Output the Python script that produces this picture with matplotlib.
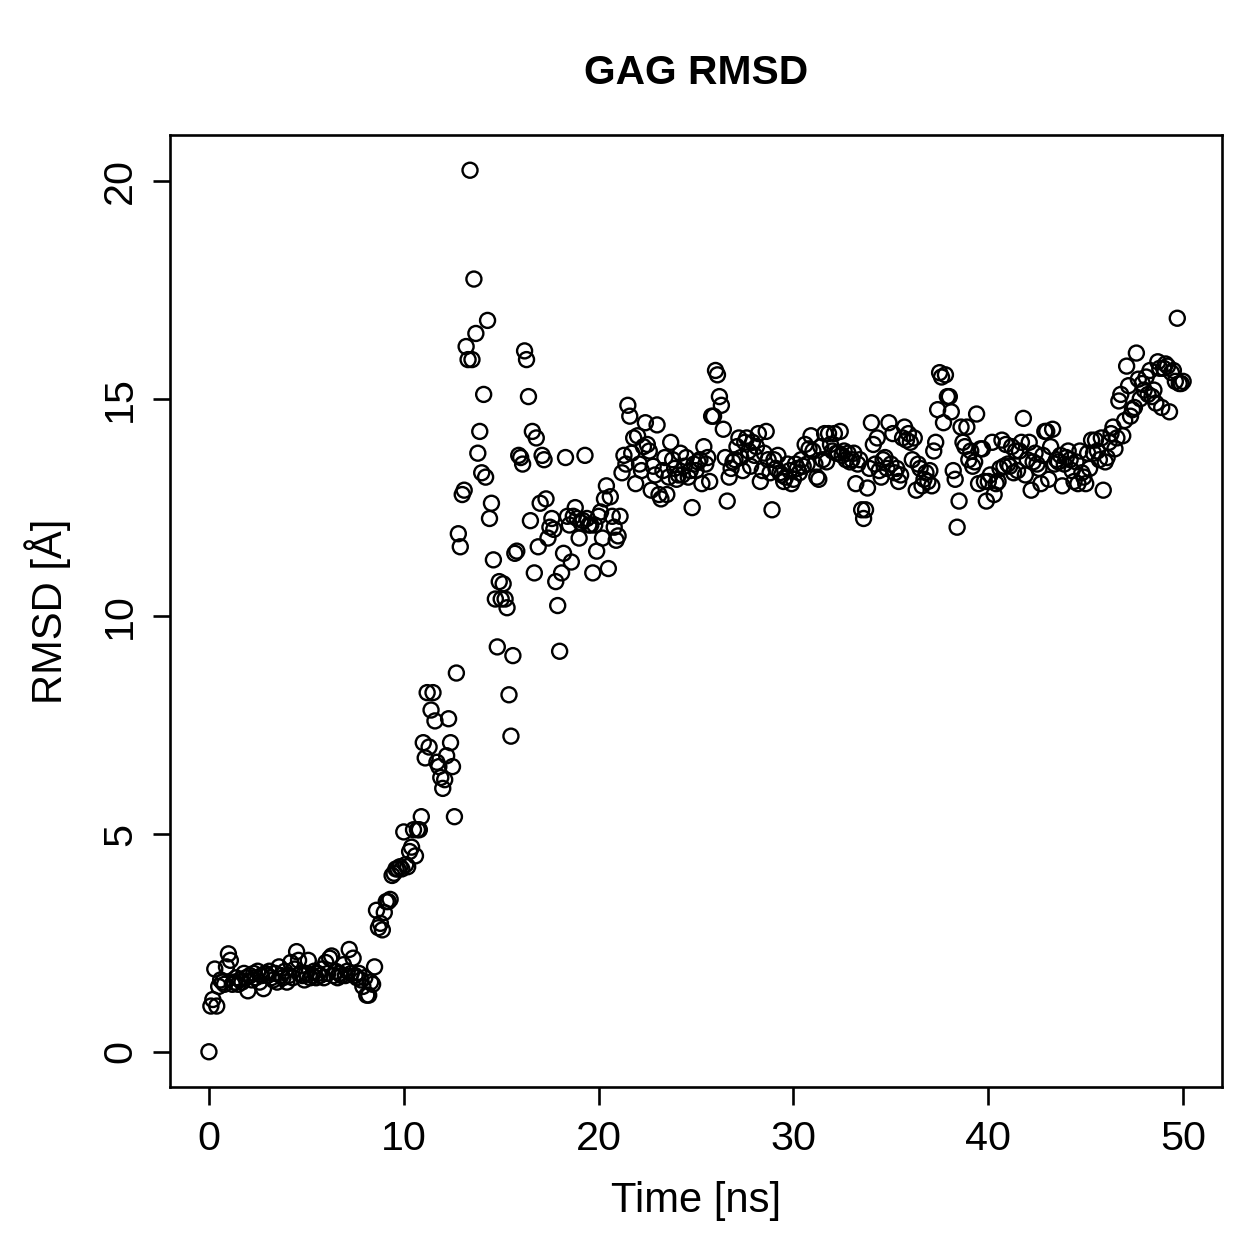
import matplotlib
matplotlib.use("Agg")
import matplotlib.pyplot as plt
import numpy as np

# RMSD (Angstrom), one frame every 0.1 ns
frame_ns = 0.1
rmsd = [
    0.0, 1.05, 1.2, 1.9, 1.05, 1.5, 1.65, 1.6, 1.55, 1.95,
    2.25, 2.1, 1.55, 1.6, 1.7, 1.55, 1.65, 1.6, 1.8, 1.7,
    1.4, 1.75, 1.65, 1.8, 1.7, 1.85, 1.6, 1.75, 1.45, 1.8,
    1.75, 1.85, 1.7, 1.65, 1.8, 1.6, 1.95, 1.75, 1.7, 1.85,
    1.6, 1.75, 2.05, 1.7, 1.9, 2.3, 2.1, 1.8, 1.75, 1.65,
    1.8, 2.1, 1.7, 1.75, 1.85, 1.7, 1.8, 1.75, 1.9, 1.7,
    2.05, 1.8, 2.15, 2.2, 1.75, 1.85, 1.7, 1.8, 1.75, 2.0,
    1.75, 1.85, 2.35, 1.8, 2.15, 1.75, 1.7, 1.8, 1.65, 1.5,
    1.7, 1.3, 1.3, 1.6, 1.55, 1.95, 3.25, 2.85, 2.95, 2.8,
    3.2, 3.45, 3.45, 3.5, 4.05, 4.1, 4.2, 4.2, 4.25, 4.2,
    5.05, 4.3, 4.25, 4.6, 4.7, 5.1, 4.5, 5.1, 5.1, 5.4,
    7.1, 6.75, 8.25, 7.0, 7.85, 8.25, 7.6, 6.65, 6.55, 6.3,
    6.05, 6.25, 6.8, 7.65, 7.1, 6.55, 5.4, 8.7, 11.9, 11.6,
    12.8, 12.9, 16.2, 15.9, 20.25, 15.9, 17.75, 16.5, 13.75, 14.25,
    13.3, 15.1, 13.2, 16.8, 12.25, 12.6, 11.3, 10.4, 9.3, 10.8,
    10.4, 10.75, 10.4, 10.2, 8.2, 7.25, 9.1, 11.45, 11.5, 13.7,
    13.65, 13.5, 16.1, 15.9, 15.05, 12.2, 14.25, 11.0, 14.1, 11.6,
    12.6, 13.7, 13.6, 12.7, 11.8, 12.05, 12.25, 12.0, 10.8, 10.25,
    9.2, 11.0, 11.45, 13.65, 12.3, 12.1, 11.25, 12.3, 12.5, 12.25,
    11.8, 12.15, 12.2, 13.7, 12.25, 12.1, 12.1, 11.0, 12.1, 11.5,
    12.3, 12.4, 11.8, 12.7, 13.0, 11.1, 12.75, 12.3, 12.05, 11.75,
    11.85, 12.3, 13.3, 13.7, 13.5, 14.85, 14.6, 13.75, 14.1, 13.05,
    14.15, 13.5, 13.35, 13.9, 14.45, 13.95, 13.8, 12.9, 13.45, 13.25,
    14.4, 12.8, 12.7, 13.35, 13.65, 12.8, 13.2, 14.0, 13.6, 13.4,
    13.15, 13.25, 13.75, 13.25, 13.45, 13.65, 13.2, 13.35, 12.5, 13.5,
    13.35, 13.55, 13.6, 13.05, 13.9, 13.5, 13.65, 13.1, 14.6, 14.6,
    15.65, 15.55, 15.05, 14.85, 14.3, 13.65, 12.65, 13.2, 13.4, 13.55,
    13.6, 13.9, 14.1, 13.65, 13.35, 14.0, 14.1, 13.8, 13.45, 14.0,
    13.7, 13.9, 14.2, 13.1, 13.35, 13.75, 14.25, 13.6, 13.3, 12.45,
    13.6, 13.4, 13.7, 13.3, 13.25, 13.1, 13.2, 13.5, 13.35, 13.05,
    13.15, 13.5, 13.4, 13.3, 13.6, 13.45, 13.95, 13.5, 13.85, 14.15,
    13.8, 13.5, 13.2, 13.15, 13.9, 13.6, 14.2, 13.55, 14.2, 13.95,
    13.8, 14.2, 13.75, 13.75, 14.25, 13.7, 13.8, 13.6, 13.75, 13.55,
    13.6, 13.75, 13.05, 13.5, 13.6, 12.45, 12.25, 12.45, 12.95, 13.4,
    14.45, 13.95, 13.5, 14.1, 13.35, 13.2, 13.6, 13.65, 13.4, 14.45,
    13.5, 14.2, 13.3, 13.4, 13.1, 13.25, 14.1, 14.35, 14.05, 14.2,
    14.0, 13.6, 14.1, 12.9, 13.5, 13.4, 13.0, 13.15, 13.3, 13.1,
    13.35, 13.0, 13.8, 14.0, 14.75, 15.6, 15.5, 14.45, 15.55, 15.05,
    15.05, 14.7, 13.35, 13.15, 12.05, 12.65, 14.35, 14.0, 13.9, 14.35,
    13.6, 13.8, 13.45, 13.55, 14.65, 13.05, 13.85, 13.85, 13.1, 12.65,
    13.1, 13.25, 14.0, 12.8, 13.05, 13.1, 13.4, 14.05, 13.45, 13.95,
    13.5, 13.45, 13.9, 13.3, 13.8, 13.35, 13.8, 14.0, 14.55, 13.25,
    13.6, 14.0, 12.9, 13.55, 13.75, 13.5, 13.4, 13.05, 13.7, 14.25,
    14.25, 13.15, 13.9, 14.3, 13.5, 13.6, 13.55, 13.7, 13.0, 13.5,
    13.65, 13.8, 13.6, 13.35, 13.1, 13.55, 13.05, 13.8, 13.3, 13.2,
    13.05, 13.75, 13.4, 14.05, 13.75, 14.05, 13.8, 13.6, 14.1, 12.9,
    13.55, 13.65, 14.0, 14.2, 14.35, 13.85, 14.1, 14.95, 15.1, 14.15,
    14.5, 15.75, 15.3, 14.6, 14.75, 14.8, 16.05, 15.45, 15.0, 15.35,
    15.2, 15.5, 15.1, 15.65, 15.05, 15.2, 14.9, 15.85, 15.7, 14.8,
    15.7, 15.8, 15.75, 14.7, 15.6, 15.65, 15.4, 16.85, 15.35, 15.35,
    15.4,
]

x_ticks = [0, 10, 20, 30, 40, 50]
y_ticks = [0, 5, 10, 15, 20]

plt.rcParams['font.family'] = ['Liberation Sans', 'DejaVu Sans']

time_ns = np.arange(len(rmsd)) * frame_ns
rmsd = np.array(rmsd)

fig = plt.figure(figsize=(1259 / 180, 1259 / 180), dpi=180)
ax = fig.add_axes([0.135, 0.1366, 0.8357, 0.7562])

ax.scatter(time_ns, rmsd, s=36, facecolors='none', edgecolors='black', linewidths=0.95)

# R style 4% padding
xr = time_ns.max() - time_ns.min()
yr = rmsd.max() - rmsd.min()
ax.set_xlim(time_ns.min() - 0.04 * xr, time_ns.max() + 0.04 * xr)
ax.set_ylim(rmsd.min() - 0.04 * yr, rmsd.max() + 0.04 * yr)

ax.set_xticks(x_ticks)
ax.set_yticks(y_ticks)
ax.set_xticklabels([str(v) for v in x_ticks])
ax.set_yticklabels([str(v) for v in y_ticks], rotation=90, va='center')
ax.tick_params(length=7, width=1.05, labelsize=16.5)
ax.tick_params(axis='x', pad=6.3)
ax.tick_params(axis='y', pad=5.3)

for sp in ax.spines.values():
    sp.set_linewidth(1.05)

ax.set_xlabel('Time [ns]', fontsize=16.7, labelpad=9)
ax.set_ylabel('RMSD [Å]', fontsize=16.7, labelpad=12)
ax.set_title('GAG RMSD', fontsize=16.3, fontweight='bold', pad=20.5)

fig.savefig('out.png', dpi=180)
